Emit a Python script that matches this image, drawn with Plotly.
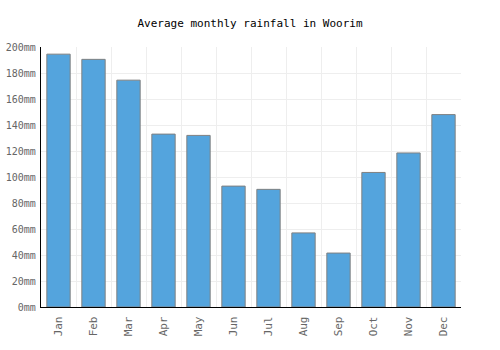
import plotly.graph_objects as go

months = ["Jan", "Feb", "Mar", "Apr", "May", "Jun", "Jul", "Aug", "Sep", "Oct", "Nov", "Dec"]
rainfall = [194.5, 190.5, 174.5, 133, 132, 93, 90.5, 57, 41.5, 103.5, 118.5, 148]
y_ticks = [0, 20, 40, 60, 80, 100, 120, 140, 160, 180, 200]
y_tick_labels = [f"{v}mm" for v in y_ticks]

fig = go.Figure(go.Bar(
    x=months, y=rainfall,
    width=0.667,
    marker=dict(color="#54a4dd", line=dict(color="#808080", width=1)),
))

font = "DejaVu Sans Mono"
fig.update_layout(
    width=500, height=350,
    margin=dict(l=41, r=39, t=47, b=43),
    paper_bgcolor="white", plot_bgcolor="white",
    title=dict(text="Average monthly rainfall in Woorim", x=0.5, xanchor="center",
               y=1 - 23 / 350, yanchor="middle",
               font=dict(family=font, size=11, color="black")),
    showlegend=False,
    font=dict(family=font, size=10, color="#666666"),
)
fig.update_xaxes(
    type="category", tickangle=-90, tickson="boundaries",
    showgrid=True, gridcolor="#eeeeee", gridwidth=1,
    showline=True, linecolor="black", linewidth=1.2,
    ticks="", ticklen=0, automargin=False, ticklabelstandoff=4,
    tickfont=dict(family=font, size=11, color="#666666"),
    range=[-0.5, 11.5],
)
fig.update_yaxes(
    range=[0, 200], tickmode="array", tickvals=y_ticks, ticktext=y_tick_labels,
    showgrid=True, gridcolor="#eeeeee", gridwidth=1,
    showline=True, linecolor="black", linewidth=1.2,
    zeroline=False, ticks="", automargin=False, ticklabelstandoff=2,
    tickfont=dict(family=font, size=10, color="#666666"),
)
fig.write_html("out.html")
